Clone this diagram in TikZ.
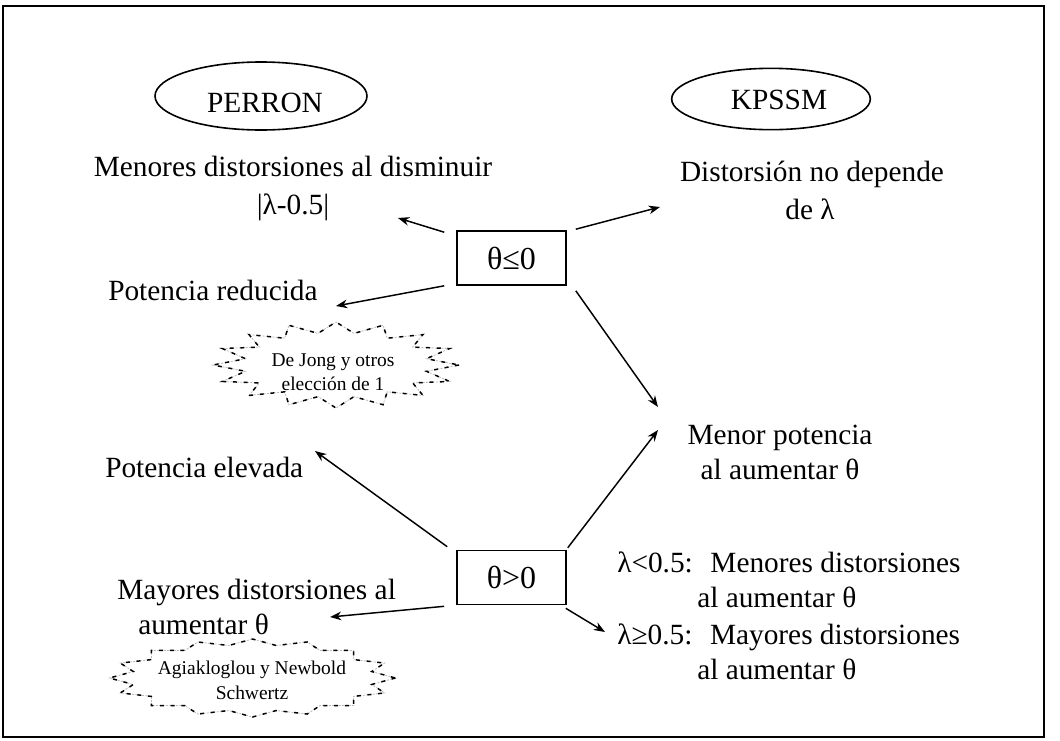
\documentclass[tikz,border=0pt]{standalone}
\usepackage{fontspec}
\setmainfont{Liberation Serif}
\usetikzlibrary{arrows.meta,shapes.geometric}
\newcommand\drawburst[5]{%
  \foreach \st in {burstgrey,burstblack}{%
    \draw[\st] ({#1+#3},#2) \foreach \i [evaluate=\i as \rr using {ifthenelse(mod(\i,2)==0,1,#5)}] in {1,...,31}{ -- ({#1+\rr*#3*cos(\i*11.25)},{#2+\rr*#4*sin(\i*11.25)}) } -- cycle;
  }%
}
\begin{document}
\begin{tikzpicture}[x=0.75pt,y=-0.75pt,
  txt/.style={font=\fontsize{22}{26}\selectfont, inner sep=0pt, anchor=base},
  txtw/.style={txt, anchor=base west},
  bursttxt/.style={font=\fontsize{14.6}{18}\selectfont, inner sep=0pt, anchor=base},
  boxtxt/.style={draw, line width=1.2pt, font=\fontsize{24}{28}\selectfont, minimum width=81.75pt, minimum height=40.5pt, inner sep=0pt},
  oval/.style={draw, ellipse, line width=1.2pt, inner sep=0pt},
  arr/.style={-{Stealth[length=8.5pt,width=6.5pt]}, line width=1.1pt},
  burstgrey/.style={draw=gray!55, line width=0.6pt, dash pattern=on 1.5pt off 1pt},
  burstblack/.style={draw=black, line width=1.1pt, dash pattern=on 3pt off 5pt},
]
\useasboundingbox (0,0) rectangle (1060,740);
\draw[line width=1.5pt] (3,6) rectangle (1044,737);

% ellipses
\node[oval, minimum width=159pt, minimum height=51pt] (perron) at (261,96) {};
\node[txt] (perrontxt) at (265,112) {PERRON};
\node[oval, minimum width=149pt, minimum height=46pt] (kpssm) at (771,99) {};
\node[txt] (kpssmtxt) at (779,109) {KPSSM};

% boxes
\node[boxtxt] (b1) at (511.5,258) {θ≤0\hspace{9.75pt}};
\node[boxtxt] (b2) at (511.5,577.5) {θ>0\hspace{9.75pt}};

% texts left
\node[txt] (men1) at (293,176) {Menores distorsiones al disminuir};
\node[txt] (men2) at (293,214) {|λ-0.5|};
\node[txtw] (potred) at (108,300) {Potencia reducida};
\node[txtw] (potelev) at (105,477) {Potencia elevada};
\node[txtw] (may1) at (117,599) {Mayores distorsiones al};
\node[txtw] (may2) at (138,634) {aumentar θ};

% texts right
\node[txt] (dist1) at (812,181) {Distorsión no depende};
\node[txt] (dist2) at (810,219) {de λ};
\node[txt] (menpot1) at (780,444) {Menor potencia};
\node[txt] (menpot2) at (780,479) {al aumentar θ};
\node[txtw] (lam1) at (617,572) {λ<0.5:\hspace{0.6em}Menores distorsiones};
\node[txtw] (lam2) at (697,607) {al aumentar θ};
\node[txtw] (lam3) at (617,644) {λ≥0.5:\hspace{0.6em}Mayores distorsiones};
\node[txtw] (lam4) at (697,679) {al aumentar θ};

% starbursts
\drawburst{336}{365}{123}{43}{0.75}
\node[bursttxt] (dj1) at (333,366) {De Jong y otros};
\node[bursttxt] (dj2) at (333,390) {elección de 1};
\drawburst{252.5}{678}{143}{39}{0.85}
\node[bursttxt] (ag1) at (252,674) {Agiakloglou y Newbold};
\node[bursttxt] (ag2) at (252,699) {Schwertz};

% arrow tips
\coordinate (t1) at (398,218);
\coordinate (t2) at (336,306);
\coordinate (t3) at (660,207);
\coordinate (t4) at (658,407);
\coordinate (t5) at (315,451);
\coordinate (t6) at (658,430);
\coordinate (t7) at (330,617);
\coordinate (t8) at (605,632);

\draw[arr] ([shift={(-12,2)}]b1.north west) -- (t1);
\draw[arr] ([shift={(-12,0)}]b1.south west) -- (t2);
\draw[arr] ([shift={(9,-1)}]b1.north east) -- (t3);
\draw[arr] ([shift={(9,5)}]b1.south east) -- (t4);
\draw[arr] ([shift={(-9,-3)}]b2.north west) -- (t5);
\draw[arr] ([shift={(1,-2)}]b2.north east) -- (t6);
\draw[arr] ([shift={(-12,1)}]b2.south west) -- (t7);
\draw[arr] ([shift={(-1,3)}]b2.south east) -- (t8);
\end{tikzpicture}
\end{document}
